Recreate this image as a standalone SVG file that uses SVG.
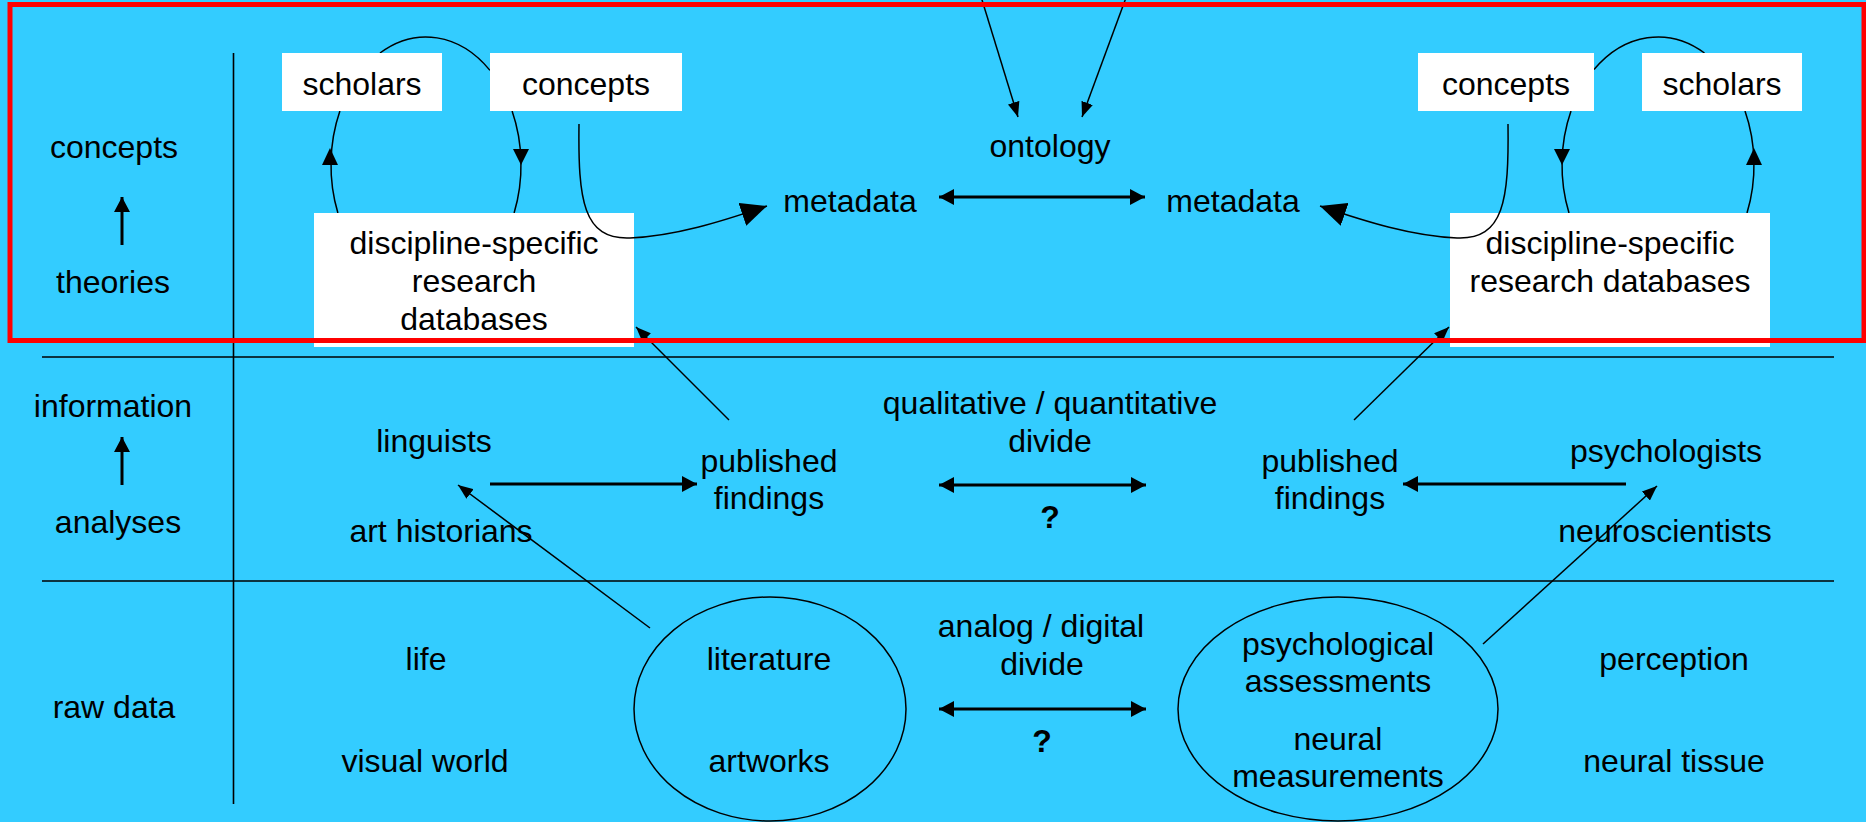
<svg xmlns="http://www.w3.org/2000/svg" width="1866" height="822" viewBox="0 0 1866 822">
<style>
text{font-family:"Liberation Sans",Arial,Helvetica,sans-serif;font-size:32px;fill:#000;text-anchor:middle}
.b{font-weight:bold}
.box{fill:#fff;stroke:none}
.thin{fill:none;stroke:#000;stroke-width:1.5}
.thick{fill:none;stroke:#000;stroke-width:3}
.grid{fill:none;stroke:#000;stroke-width:1.6}
</style>
<defs>
<marker id="ah" viewBox="0 0 15 12" refX="15" refY="6" markerWidth="15" markerHeight="12" markerUnits="userSpaceOnUse" orient="auto-start-reverse"><path d="M0,0 L15,6 L0,12 z" fill="#000"/></marker>
<marker id="ahT" viewBox="0 0 15 16" refX="15" refY="8" markerWidth="15" markerHeight="16" markerUnits="userSpaceOnUse" orient="auto-start-reverse"><path d="M0,0 L15,8 L0,16 z" fill="#000"/></marker>
<marker id="ahB" viewBox="0 0 26 24" refX="26" refY="12" markerWidth="26" markerHeight="24" markerUnits="userSpaceOnUse" orient="auto-start-reverse"><path d="M0,0 L26,12 L0,24 z" fill="#000"/></marker>
</defs>
<rect x="0" y="0" width="1866" height="822" fill="#33ccff"/>

<g id="grid">
<line class="grid" x1="233.5" y1="53" x2="233.5" y2="804"/>
<line class="grid" x1="42" y1="357" x2="1834" y2="357"/>
<line class="grid" x1="42" y1="581" x2="1834" y2="581"/>
</g>

<g id="row-labels">
<text x="114" y="158">concepts</text>
<text x="113" y="293">theories</text>
<text x="113" y="417">information</text>
<text x="118" y="533">analyses</text>
<text x="114" y="718">raw data</text>
<line class="thick" x1="122" y1="245" x2="122" y2="197" marker-end="url(#ahT)"/>
<line class="thick" x1="122" y1="485" x2="122" y2="437" marker-end="url(#ahT)"/>
</g>

<g id="connectors">
<!-- left loop -->
<path class="thin" d="M337.9,213 A95,128 0 0 1 339.9,111"/>
<path class="thin" d="M380,53 A95,128 0 0 1 490,70.4"/>
<path class="thin" d="M512.1,111 A95,128 0 0 1 514.1,213"/>
<path d="M330,148 L322,165 L338,165 z" fill="#000"/>
<path d="M521,165 L513,149 L529,149 z" fill="#000"/>
<!-- right loop -->
<path class="thin" d="M1594,69.6 A96,128 0 0 1 1704.5,53"/>
<path class="thin" d="M1571,111 A96,128 0 0 0 1569,213"/>
<path class="thin" d="M1747,213 A96,128 0 0 0 1745,111"/>
<path d="M1562,165 L1554,149 L1570,149 z" fill="#000"/>
<path d="M1754,148 L1746,165 L1762,165 z" fill="#000"/>
<!-- into ontology -->
<line class="thin" x1="980.5" y1="-5" x2="1018" y2="117" marker-end="url(#ah)"/>
<line class="thin" x1="1127" y1="-5" x2="1082" y2="117" marker-end="url(#ah)"/>
<!-- metadata double -->
<line class="thick" x1="939" y1="197" x2="1145" y2="197" marker-start="url(#ahT)" marker-end="url(#ahT)"/>
</g>

<g id="n-scholars-l"><rect class="box" x="282" y="53" width="160" height="58"/><text x="362" y="95">scholars</text></g>
<g id="n-concepts-l"><rect class="box" x="490" y="53" width="192" height="58"/><text x="586" y="95">concepts</text></g>
<g id="n-db-l"><rect class="box" x="314" y="213" width="320" height="134"/><text x="474" y="254">discipline-specific</text><text x="474" y="292">research</text><text x="474" y="330">databases</text></g>
<g id="n-concepts-r"><rect class="box" x="1418" y="53" width="176" height="58"/><text x="1506" y="95">concepts</text></g>
<g id="n-scholars-r"><rect class="box" x="1642" y="53" width="160" height="58"/><text x="1722" y="95">scholars</text></g>
<g id="n-db-r"><rect class="box" x="1450" y="213" width="320" height="134"/><text x="1610" y="254">discipline-specific</text><text x="1610" y="292">research databases</text></g>

<g id="n-ontology"><text x="1050" y="157">ontology</text></g>
<g id="n-metadata-l"><text x="850" y="212">metadata</text></g>
<g id="n-metadata-r"><text x="1233" y="212">metadata</text></g>

<g id="n-linguists"><text x="434" y="452">linguists</text><text x="441" y="542">art historians</text></g>
<g id="n-findings-l"><text x="769" y="472">published</text><text x="769" y="509">findings</text></g>
<g id="n-qual"><text x="1050" y="414">qualitative / quantitative</text><text x="1050" y="452">divide</text><text class="b" x="1050" y="528">?</text></g>
<g id="n-findings-r"><text x="1330" y="472">published</text><text x="1330" y="509">findings</text></g>
<g id="n-psychologists"><text x="1666" y="462">psychologists</text><text x="1665" y="542">neuroscientists</text></g>

<g id="n-life"><text x="426" y="670">life</text><text x="425" y="772">visual world</text></g>
<g id="n-literature"><ellipse class="thin" cx="770" cy="709" rx="136" ry="112"/><text x="769" y="670">literature</text><text x="769" y="772">artworks</text></g>
<g id="n-analog"><text x="1041" y="637">analog / digital</text><text x="1042" y="675">divide</text><text class="b" x="1042" y="752">?</text></g>
<g id="n-psych"><ellipse class="thin" cx="1338" cy="709" rx="160" ry="112"/><text x="1338" y="655">psychological</text><text x="1338" y="692">assessments</text><text x="1338" y="750">neural</text><text x="1338" y="787">measurements</text></g>
<g id="n-perception"><text x="1674" y="670">perception</text><text x="1674" y="772">neural tissue</text></g>

<g id="connectors2">
<path class="thin" d="M579,124 C578,200 583,240 630,238 C675,236 720,222 767,206" marker-end="url(#ahB)"/>
<path class="thin" d="M1508,124 C1509,200 1504,240 1457,238 C1412,236 1367,222 1320,206" marker-end="url(#ahB)"/>
<line class="thin" x1="729" y1="420" x2="636" y2="327" marker-end="url(#ah)"/>
<line class="thin" x1="1354" y1="420" x2="1449" y2="327" marker-end="url(#ah)"/>
<line class="thick" x1="490" y1="484" x2="697" y2="484" marker-end="url(#ahT)"/>
<line class="thick" x1="1626" y1="484" x2="1403" y2="484" marker-end="url(#ahT)"/>
<line class="thick" x1="939" y1="485" x2="1146" y2="485" marker-start="url(#ahT)" marker-end="url(#ahT)"/>
<line class="thick" x1="939" y1="709" x2="1146" y2="709" marker-start="url(#ahT)" marker-end="url(#ahT)"/>
<line class="thin" x1="650" y1="628" x2="458" y2="485" marker-end="url(#ah)"/>
<line class="thin" x1="1483" y1="644" x2="1657" y2="486" marker-end="url(#ah)"/>
</g>

<rect id="highlight" x="10" y="4.5" width="1854" height="336" fill="none" stroke="#ff0000" stroke-width="5"/>
</svg>
